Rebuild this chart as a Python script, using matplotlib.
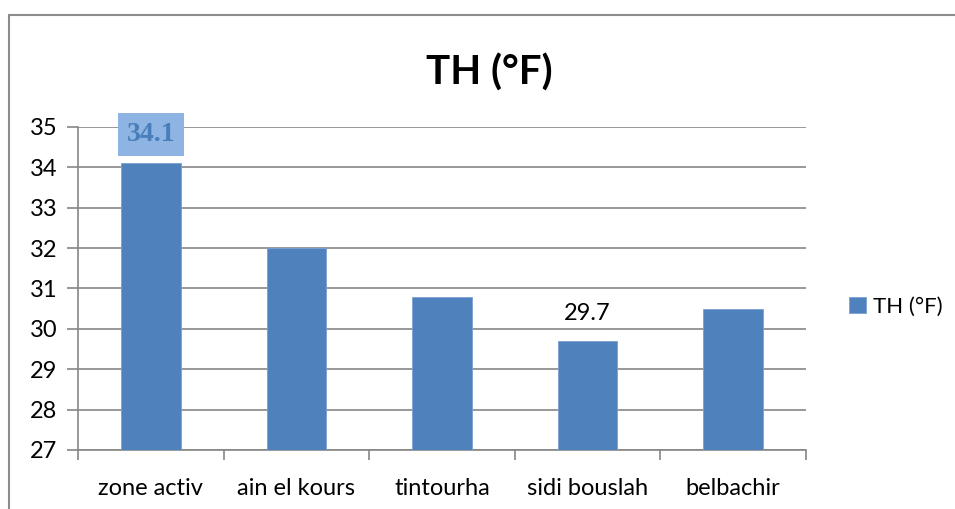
import matplotlib.pyplot as plt
import numpy as np
from matplotlib.patches import Rectangle

plt.rcParams['font.family'] = ['Lato', 'DejaVu Sans']

# Data
categories = ['zone activ', 'ain el kours', 'tintourha', 'sidi bouslah', 'belbachir']
values = [34.1, 32.0, 30.8, 29.7, 30.5]
series_name = 'TH (°F)'
y_ticks = [27, 28, 29, 30, 31, 32, 33, 34, 35]

bar_color = '#4F81BD'
grid_color = '#868686'

fig = plt.figure(figsize=(9.55, 5.09), dpi=100)
ax = fig.add_axes([0.0817, 0.116, 0.7623, 0.6345])

x = np.arange(len(categories))
bars = ax.bar(x, values, width=0.41, color=bar_color, edgecolor='#7BA1D4',
              linewidth=0.6, label=series_name, zorder=3)

ax.set_ylim(27, 35)
ax.set_xlim(-0.5, len(categories) - 0.5)
ax.set_yticks(y_ticks)
ax.yaxis.grid(True, color=grid_color, linewidth=1.2, zorder=0)

# category labels centred, tick marks between categories
ax.set_xticks(x)
ax.set_xticklabels(categories, fontsize=17)
ax.tick_params(axis='x', length=0, pad=20)
ax.set_xticks(np.arange(-0.5, len(categories)), minor=True)
ax.tick_params(axis='x', which='minor', length=7, width=1.2, color=grid_color)
ax.tick_params(axis='y', length=8, width=1.2, color=grid_color, labelsize=17, pad=7)

for side in ['top', 'right']:
    ax.spines[side].set_visible(False)
for side in ['left', 'bottom']:
    ax.spines[side].set_color(grid_color)
    ax.spines[side].set_linewidth(1.2)

# data labels
ax.annotate(f'{values[0]:.1f}', xy=(x[0], values[0]), xytext=(0, 21),
            textcoords='offset points', ha='center', va='center',
            fontsize=20, fontweight='bold', family='Liberation Serif',
            color='#4A7EBB',
            bbox=dict(boxstyle='square,pad=0.32', facecolor='#8DB4E2',
                      edgecolor='none'), zorder=5)
ax.annotate(f'{values[3]:.1f}', xy=(x[3], values[3]), xytext=(0, 20),
            textcoords='offset points', ha='center', va='center',
            fontsize=17, color='black')

fig.text(0.512, 0.858, series_name, ha='center', va='center',
         fontsize=29, fontweight='bold')

ax.legend(loc='center left', bbox_to_anchor=(0.889, 0.397),
          bbox_transform=fig.transFigure, frameon=False, fontsize=16,
          borderpad=0, borderaxespad=0,
          handlelength=0.75, handleheight=0.75, handletextpad=0.35)

# outer chart border
fig.patches.append(Rectangle((9 / 955, -0.1), 1.2, 1 - 15 / 509 + 0.1,
                             transform=fig.transFigure, fill=False,
                             edgecolor='#8C8C8C', linewidth=1.5))

fig.savefig('out.png', dpi=100, facecolor='white')
